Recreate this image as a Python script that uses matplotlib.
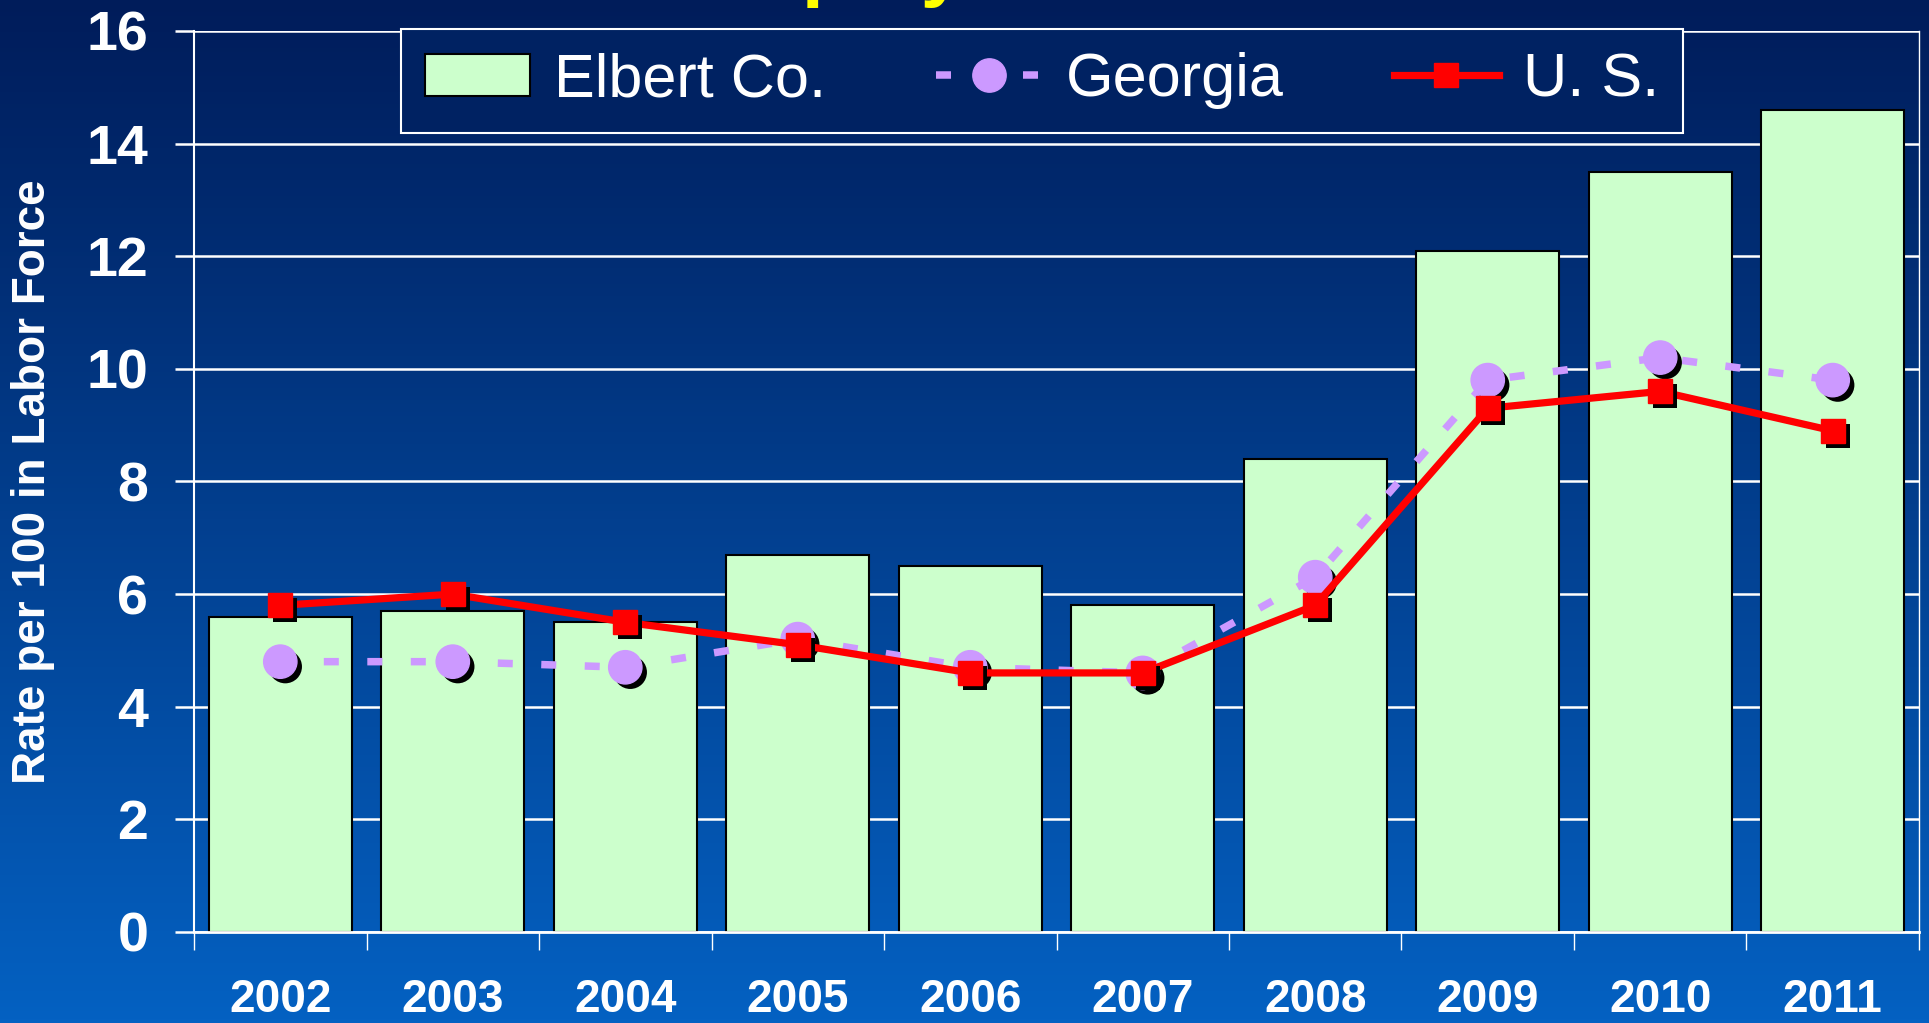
import numpy as np
import matplotlib
matplotlib.use('Agg')
import matplotlib.pyplot as plt
import matplotlib.patheffects as pe
from matplotlib.lines import Line2D
from matplotlib.patches import Patch

# data
years = ['2002', '2003', '2004', '2005', '2006', '2007', '2008', '2009', '2010', '2011']
elbert = [5.6, 5.7, 5.5, 6.7, 6.5, 5.8, 8.4, 12.1, 13.5, 14.6]
georgia = [4.8, 4.8, 4.7, 5.2, 4.7, 4.6, 6.3, 9.8, 10.2, 9.8]
us = [5.8, 6.0, 5.5, 5.1, 4.6, 4.6, 5.8, 9.3, 9.6, 8.9]

bar_color = '#CCFFCC'
ga_color = '#CC99FF'
us_color = '#FF0000'

plt.rcParams['font.family'] = ['Liberation Sans', 'DejaVu Sans']

fig = plt.figure(figsize=(19.29, 10.23), dpi=100)

# vertical gradient background, navy at top to blue at bottom
top = np.array([0, 28, 90]) / 255
bot = np.array([4, 97, 194]) / 255
t = np.linspace(0, 1, 256)[:, None]
grad = top + (bot - top) * t
bg = fig.add_axes([0, 0, 1, 1], zorder=-10)
bg.imshow(grad[:, None, :], aspect='auto', extent=[0, 1, 0, 1])
bg.axis('off')

# title mostly cut off at the top edge, as in the original slide
fig.text(0.5, 1.009, 'Unemployment Rate', color='yellow', fontsize=57,
         weight='bold', ha='center', va='baseline')

ax = fig.add_axes([0.1006, 0.089, 0.8942, 0.8807])
ax.set_facecolor('none')

x = np.arange(len(years))
shadow = [pe.SimplePatchShadow(offset=(3.6, -3.6), shadow_rgbFace='black', alpha=1), pe.Normal()]

ax.bar(x, elbert, width=0.83, color=bar_color, edgecolor='black', linewidth=1.5, zorder=2)

ax.plot(x, georgia, color=ga_color, lw=5.4, dashes=(2.0, 3.8), zorder=3)
ax.plot(x, georgia, ls='none', marker='o', ms=24, mfc=ga_color, mec=ga_color,
        zorder=4, path_effects=shadow)

ax.plot(x, us, color=us_color, lw=5.2, zorder=5)
ax.plot(x, us, ls='none', marker='s', ms=17.3, mfc=us_color, mec=us_color,
        zorder=6, path_effects=shadow)

ax.set_xlim(-0.5, len(years) - 0.5)
ax.set_ylim(0, 16)
ax.set_yticks(range(0, 17, 2))

ax.set_xticks(x)
ax.set_xticklabels(years, fontsize=33, weight='bold', color='white')
ax.tick_params(axis='x', which='major', length=0, pad=33)
ax.set_xticks(np.arange(-0.5, len(years), 1), minor=True)
ax.tick_params(axis='x', which='minor', length=13, width=1, color='white')

ax.tick_params(axis='y', length=14, width=1.8, color='white', pad=19,
               labelsize=40, labelcolor='white')
for lab in ax.get_yticklabels():
    lab.set_fontweight('bold')

ax.grid(axis='y', color='white', lw=1.8)
ax.set_axisbelow(True)

ax.spines['top'].set_visible(False)
ax.spines['left'].set_color('white')
ax.spines['left'].set_linewidth(1.5)
ax.spines['bottom'].set_color('white')
ax.spines['bottom'].set_linewidth(2)
ax.spines['right'].set_color('white')
ax.spines['right'].set_linewidth(1)

ax.set_ylabel('Rate per 100 in Labor Force', fontsize=33, weight='bold', color='white')
ax.yaxis.set_label_coords(-0.0805, 0.5)

handles = [
    Patch(facecolor=bar_color, edgecolor='black', linewidth=1.5),
    Line2D([], [], color=ga_color, lw=5.4, dashes=(2.0, 3.8), marker='o', ms=24,
           mfc=ga_color, mec=ga_color),
    Line2D([], [], color=us_color, lw=5.2, marker='s', ms=17.3, mfc=us_color, mec=us_color),
]
leg_face = tuple(top + (bot - top) * 0.08)
leg = ax.legend(handles, ['Elbert Co.', 'Georgia', 'U. S.'], ncol=3,
                loc='upper center', bbox_to_anchor=(0.4916, 1.002), borderaxespad=0,
                fontsize=44, handlelength=1.72, handletextpad=0.4, columnspacing=1.8,
                borderpad=0.38, fancybox=False, framealpha=1, facecolor=leg_face,
                edgecolor='white')
leg.get_frame().set_linewidth(1.5)
for txt in leg.get_texts():
    txt.set_color('white')

fig.savefig('out.png', dpi=100)
